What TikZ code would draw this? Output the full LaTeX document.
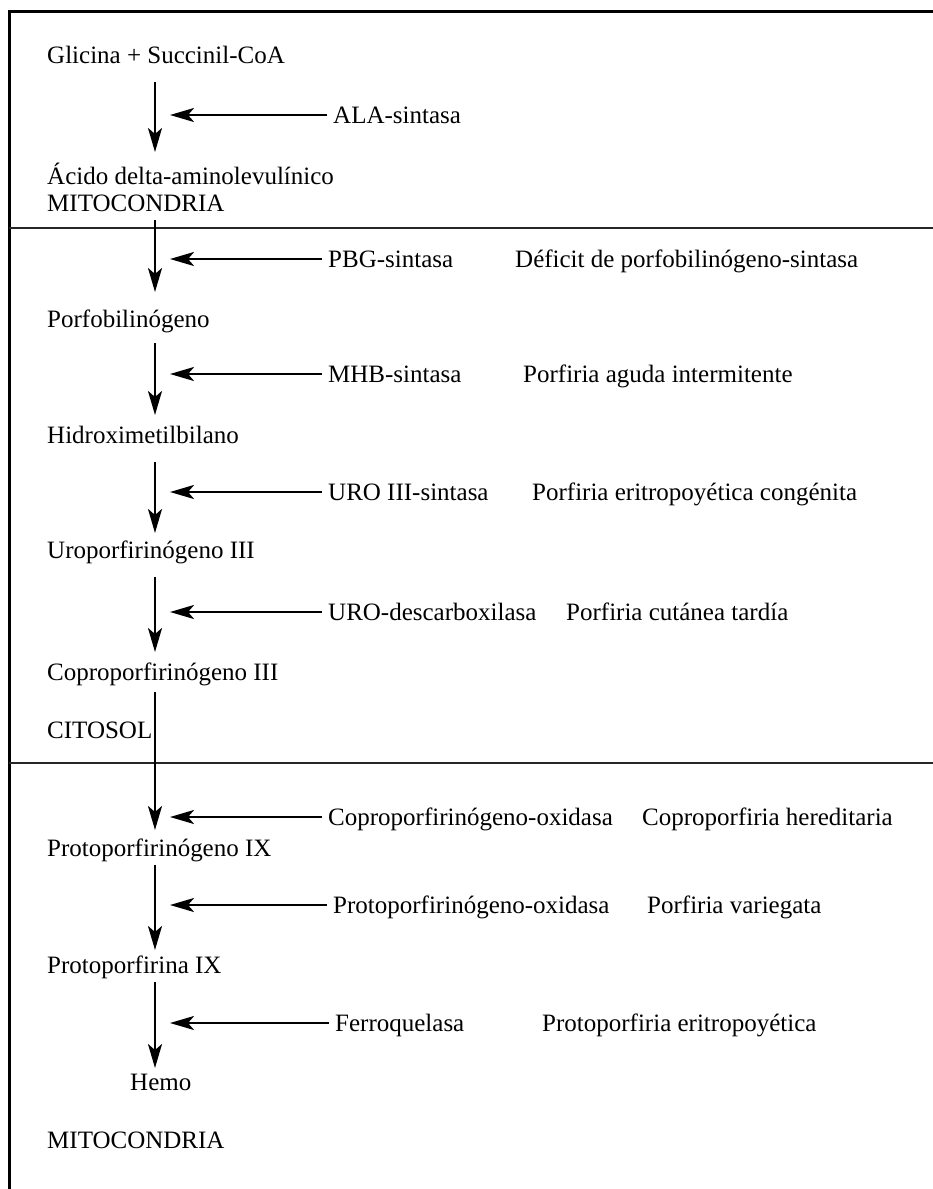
\documentclass[tikz,border=0pt]{standalone}
\usepackage{fontspec}
\setmainfont{Liberation Serif}
\usetikzlibrary{arrows.meta,calc}

\begin{document}
\begin{tikzpicture}[x=1pt,y=-1pt]

  \tikzstyle{every node}=[font=\fontsize{25}{30}\selectfont, inner sep=0pt, anchor=base west]

  \tikzset{flowptr/.style={line width=2.6pt, -{Stealth[length=24pt,width=14pt,inset=6pt]}}}
  \tikzset{divider/.style={line width=1.8pt, black!85}}

  \useasboundingbox (0,0) rectangle (933,1189);

  % Frame and compartments
  \draw[line width=3pt] (9,1189) -- (9,11) -- (933,11);
  \draw[divider] (9,228) -- (933,228);
  \draw[divider] (9,763) -- (933,763);
  \coordinate (spine) at (155,0);

  % Metabolites
  \node (glicina) at (47,63) {Glicina + Succinil-CoA};
  \node (acido) at (47,184) {Ácido delta-aminolevulínico};
  \node (mito top) at (47,211) {MITOCONDRIA};
  \node (porfob) at (47,327) {Porfobilinógeno};
  \node (hidroxi) at (47,443) {Hidroximetilbilano};
  \node (uro III) at (47,558) {Uroporfirinógeno III};
  \node (copro III) at (47,680) {Coproporfirinógeno III};
  \node (citosol) at (47,738) {CITOSOL};
  \node (protogen IX) at (47,856) {Protoporfirinógeno IX};
  \node (proto IX) at (47,973) {Protoporfirina IX};
  \node (hemo) at (130,1090) {Hemo};
  \node (mito bottom) at (47,1148) {MITOCONDRIA};

  % Pathway
  \draw[flowptr] ($(glicina.base -| spine)+(0,19)$) -- ($(acido.base -| spine)+(0,-32)$);
  \draw[flowptr] ($(mito top.base -| spine)+(0,9)$) -- ($(porfob.base -| spine)+(0,-35)$);
  \draw[flowptr] ($(porfob.base -| spine)+(0,16)$) -- ($(hidroxi.base -| spine)+(0,-28)$);
  \draw[flowptr] ($(hidroxi.base -| spine)+(0,19)$) -- ($(uro III.base -| spine)+(0,-25)$);
  \draw[flowptr] ($(uro III.base -| spine)+(0,19)$) -- ($(copro III.base -| spine)+(0,-28)$);
  \draw[flowptr] ($(copro III.base -| spine)+(0,12)$) -- ($(protogen IX.base -| spine)+(0,-26)$);
  \draw[flowptr] ($(protogen IX.base -| spine)+(0,9)$) -- ($(proto IX.base -| spine)+(0,-23)$);
  \draw[flowptr] ($(proto IX.base -| spine)+(0,9)$) -- ($(hemo.base -| spine)+(0,-22)$);

  % Enzymes
  \node (ala) at (333,123) {ALA-sintasa};
  \node (pbg) at (328,267) {PBG-sintasa};
  \node (mhb) at (328,382) {MHB-sintasa};
  \node (uros) at (328,500) {URO III-sintasa};
  \node (urod) at (328,620) {URO-descarboxilasa};
  \node (cpox) at (328,825) {Coproporfirinógeno-oxidasa};
  \node (ppox) at (333,913) {Protoporfirinógeno-oxidasa};
  \node (fech) at (335,1031) {Ferroquelasa};

  \foreach \enz in {ala,pbg,mhb,uros,urod,cpox,ppox,fech}
    \draw[flowptr] ($(\enz.base west)+(-6,-8)$) -- ($(\enz.base west -| spine)+(15,-8)$);

  % Diseases
  \node (def pbg) at (515,267) {Déficit de porfobilinógeno-sintasa};
  \node (pai) at (523,382) {Porfiria aguda intermitente};
  \node (pec) at (532,500) {Porfiria eritropoyética congénita};
  \node (pct) at (566,620) {Porfiria cutánea tardía};
  \node (hc) at (642,825) {Coproporfiria hereditaria};
  \node (pv) at (647,913) {Porfiria variegata};
  \node (ppe) at (542,1031) {Protoporfiria eritropoyética};

\end{tikzpicture}
\end{document}
